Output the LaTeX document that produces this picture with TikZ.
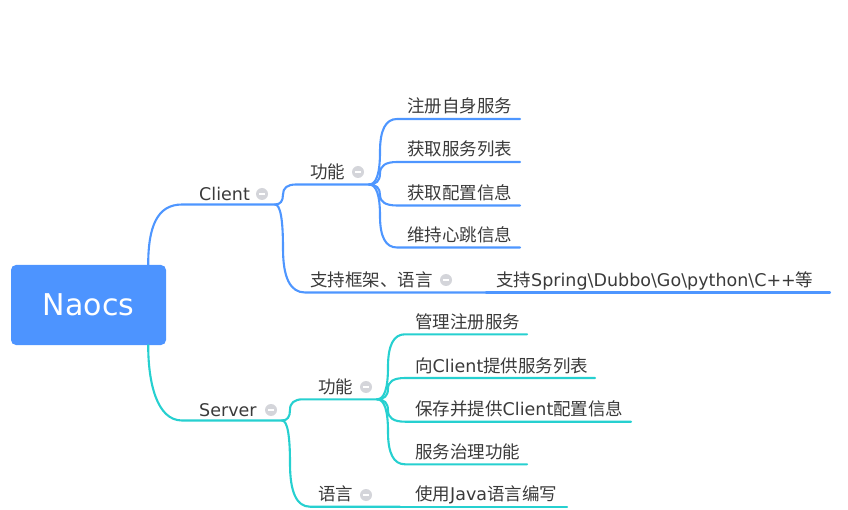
\documentclass[tikz,border=0pt]{standalone}
\usepackage{fontspec}
\setmainfont{DejaVu Sans}
\newfontfamily\cjk[Scale=1.0]{Noto Sans CJK SC}
\usetikzlibrary{calc}
\definecolor{cblue}{RGB}{78,150,255}
\definecolor{ccyan}{RGB}{38,208,208}
\definecolor{ctext}{RGB}{58,58,58}
\definecolor{cicon}{RGB}{212,213,218}
\definecolor{croot}{RGB}{77,148,255}
\begin{document}
\begin{tikzpicture}[x=1pt,y=-1pt,
  topic/.style={anchor=base west, inner sep=0pt, text=ctext, font=\fontsize{17.5}{20}\selectfont},
  fold/.style={circle, fill=cicon, minimum size=12pt, inner sep=0pt,
    path picture={\draw[white,line width=1.6pt] ([xshift=-3.2pt]path picture bounding box.center) -- ([xshift=3.2pt]path picture bounding box.center);}},
  link/.style={line width=2.1pt, line cap=round},
  branch/.style={to path={let \p1=(\tikztostart),\p2=(\tikztotarget),\n1={(\y1+\y2)/2},
       \n2={(2*\y1+\n1)/3},\n3={(2*\y2+\n1)/3} in
     .. controls (\x1+0.667*#1,\y1) and (\x1+#1,\n2) .. (\x1+#1,\n1)
     .. controls (\x1+#1,\n3) and ({(\x2+2*\x1+2*#1)/3},\y2) .. (\p2) \tikztonodes}},
  branch/.default=8pt
]
\useasboundingbox (0,0) rectangle (848,510);

% root
\node[fill=croot, rounded corners=5pt, minimum width=155pt, minimum height=80pt,
      inner sep=0pt, text=white, font=\fontsize{30}{36}\selectfont] (root) at (88.5,305) {Naocs};

% ---------- Client side ----------
\coordinate (cS) at (182,204.5);  \coordinate (cE) at (275,204.5);
\coordinate (cfS) at (296,184.5); \coordinate (cfE) at (369,184.5);
\coordinate (l1S) at (397,119);   \coordinate (l1E) at (520,119);
\coordinate (l2S) at (397,162);   \coordinate (l2E) at (520,162);
\coordinate (l3S) at (397,205.5); \coordinate (l3E) at (520,205.5);
\coordinate (l4S) at (397,247.5); \coordinate (l4E) at (520,247.5);
\coordinate (csS) at (305,292.5); \coordinate (csE) at (486,292.5);
\coordinate (csL) at (830,292.5);

\node[topic] (client) at (199,200.7) {Client};
\node[fold] (clientI) at (262,194) {};
\node[topic] (cfun) at (310,178.5) {\cjk 功能};
\node[fold] (cfunI) at (358,172) {};
\node[topic] (c1) at (407,113) {\cjk 注册自身服务};
\node[topic] (c2) at (407,156) {\cjk 获取服务列表};
\node[topic] (c3) at (407,199.5) {\cjk 获取配置信息};
\node[topic] (c4) at (407,241.5) {\cjk 维持心跳信息};
\node[topic] (csup) at (310,286.5) {\cjk 支持框架、语言};
\node[fold] (csupI) at (446,280) {};
\node[topic] (clang) at (496,286.5) {{\cjk 支持}Spring\textbackslash Dubbo\textbackslash Go\textbackslash python\textbackslash C++{\cjk 等}};

\begin{scope}[link, draw=cblue]
\draw ([xshift=-18pt]root.north east) .. controls +(0,-38) and +(-25,0) .. (cS) -- (cE);
\draw (cE) to[branch] (cfS) -- (cfE);
\draw (cfE) to[branch=11pt] (l1S) -- (l1E);
\draw (cfE) to[branch=11pt] (l2S) -- (l2E);
\draw (cfE) to[branch=11pt] (l3S) -- (l3E);
\draw (cfE) to[branch=11pt] (l4S) -- (l4E);
\draw (cE) to[branch] (csS) -- (csE);
\draw (csE) -- (csL);
\end{scope}

% ---------- Server side ----------
\coordinate (sS) at (182,420.5);  \coordinate (sE) at (282,420.5);
\coordinate (sfS) at (303,399.3); \coordinate (sfE) at (377,399.3);
\coordinate (m1S) at (405,334.3); \coordinate (m1E) at (527,334.3);
\coordinate (m2S) at (405,378);   \coordinate (m2E) at (595,378);
\coordinate (m3S) at (405,421.7); \coordinate (m3E) at (631,421.7);
\coordinate (m4S) at (405,464.3); \coordinate (m4E) at (527,464.3);
\coordinate (slS) at (310,506.7); \coordinate (slE) at (400,506.7);
\coordinate (slL) at (567,506.7);

\node[topic] (server) at (199,416.7) {Server};
\node[fold] (serverI) at (271,410) {};
\node[topic] (sfun) at (318,393.3) {\cjk 功能};
\node[fold] (sfunI) at (366,387) {};
\node[topic] (s1) at (415,328.3) {\cjk 管理注册服务};
\node[topic] (s2) at (415,372) {{\cjk 向}Client{\cjk 提供服务列表}};
\node[topic] (s3) at (415,415.7) {{\cjk 保存并提供}Client{\cjk 配置信息}};
\node[topic] (s4) at (415,458.3) {\cjk 服务治理功能};
\node[topic] (slang) at (318,500.7) {\cjk 语言};
\node[fold] (slangI) at (366,495) {};
\node[topic] (sjava) at (415,500.7) {{\cjk 使用}Java{\cjk 语言编写}};

\begin{scope}[link, draw=ccyan]
\draw ([xshift=-18pt]root.south east) .. controls +(0,38) and +(-25,0) .. (sS) -- (sE);
\draw (sE) to[branch] (sfS) -- (sfE);
\draw (sfE) to[branch=11pt] (m1S) -- (m1E);
\draw (sfE) to[branch=11pt] (m2S) -- (m2E);
\draw (sfE) to[branch=11pt] (m3S) -- (m3E);
\draw (sfE) to[branch=11pt] (m4S) -- (m4E);
\draw (sE) to[branch] (slS) -- (slE);
\draw (slE) -- (slL);
\end{scope}
\end{tikzpicture}
\end{document}
